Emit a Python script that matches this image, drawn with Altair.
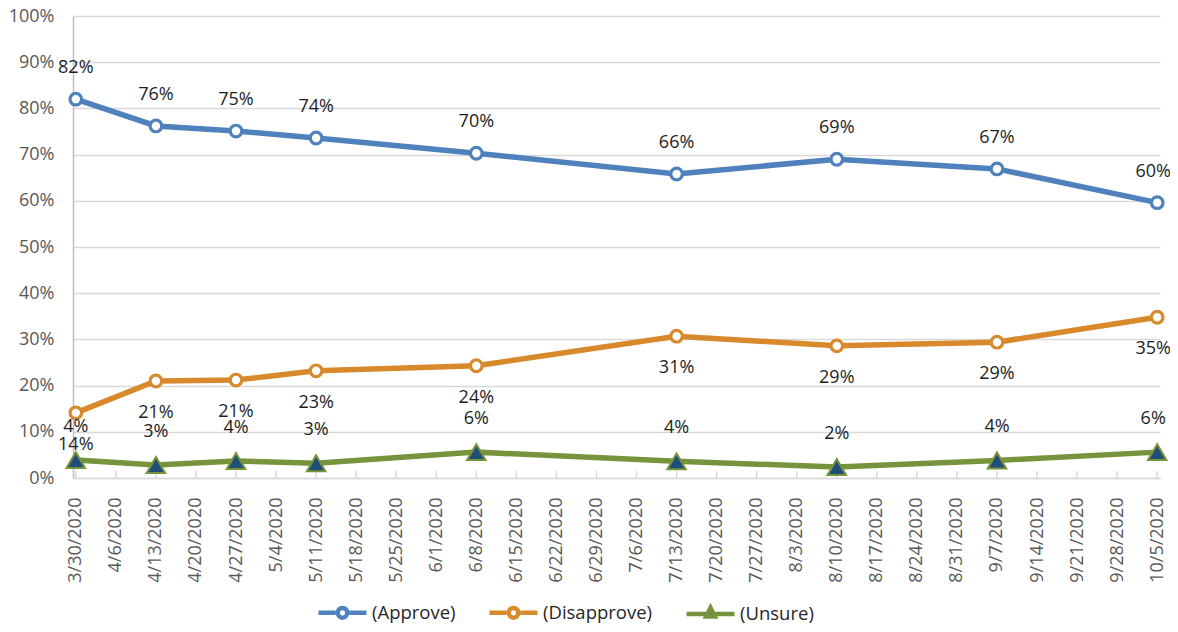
import altair as alt
import pandas as pd

week_labels = ["3/30/2020", "4/6/2020", "4/13/2020", "4/20/2020", "4/27/2020", "5/4/2020",
               "5/11/2020", "5/18/2020", "5/25/2020", "6/1/2020", "6/8/2020", "6/15/2020",
               "6/22/2020", "6/29/2020", "7/6/2020", "7/13/2020", "7/20/2020", "7/27/2020",
               "8/3/2020", "8/10/2020", "8/17/2020", "8/24/2020", "8/31/2020", "9/7/2020",
               "9/14/2020", "9/21/2020", "9/28/2020", "10/5/2020"]
survey_dates = ["3/30/2020", "4/13/2020", "4/27/2020", "5/11/2020", "6/8/2020",
                "7/13/2020", "8/10/2020", "9/7/2020", "10/5/2020"]
series_names = ["(Approve)", "(Disapprove)", "(Unsure)"]
approve = [0.820, 0.762, 0.751, 0.736, 0.703, 0.658, 0.690, 0.669, 0.596]
disapprove = [0.141, 0.210, 0.212, 0.232, 0.243, 0.307, 0.286, 0.294, 0.348]
unsure = [0.039, 0.028, 0.037, 0.032, 0.056, 0.036, 0.024, 0.038, 0.056]
y_ticks = [0, 0.1, 0.2, 0.3, 0.4, 0.5, 0.6, 0.7, 0.8, 0.9, 1.0]

line_colors = ["#4f81bd", "#d8892b", "#77933c"]
marker_fills = ["#ffffff", "#ffffff", "#1f4e79"]
marker_shapes = ["circle", "circle", "triangle-up"]
marker_sizes = [135, 135, 340]
marker_strokes = [3.2, 3.2, 2]
label_dy = [-31, 32, -33]
legend_paths = [
    "M-1,0H-0.29M0.29,0H1M0.2,0A0.2,0.2,0,1,1,-0.2,0A0.2,0.2,0,1,1,0.2,0",
    "M-1,0H-0.29M0.29,0H1M0.2,0A0.2,0.2,0,1,1,-0.2,0A0.2,0.2,0,1,1,0.2,0",
    "M-1,0H-0.2M0.2,0H1M0,-0.26L0.18,0.1L-0.18,0.1Z",
]

FONT = "Open Sans"

rows = []
for name, vals in zip(series_names, [approve, disapprove, unsure]):
    for d, v in zip(survey_dates, vals):
        rows.append({"date": d, "series": name, "value": v, "idx": week_labels.index(d)})
df = pd.DataFrame(rows)
ticks_df = pd.DataFrame({"date": week_labels})
last_date = survey_dates[-1]

x_scale = alt.Scale(domain=week_labels, type="point", padding=0.07)
y_scale = alt.Scale(domain=[0, 1])

x_axis = alt.Axis(title=None, labelAngle=270, ticks=False, grid=False,
                  domainColor="#d9d9d9", domainWidth=1.5, labelColor="#595959",
                  labelFont=FONT, labelFontSize=18, labelPadding=19, labelOverlap=False)
y_axis = alt.Axis(title=None, format=".0%", values=y_ticks, grid=True, gridColor="#d9d9d9",
                  gridWidth=1.5, ticks=False, domain=True, domainColor="#bfbfbf",
                  domainWidth=1.5, labelColor="#595959", labelFont=FONT, labelFontSize=18,
                  labelPadding=19)

X = alt.X("date:N", scale=x_scale, sort=week_labels, axis=x_axis)
Y = alt.Y("value:Q", scale=y_scale, axis=y_axis)

layers = []
layers.append(
    alt.Chart(ticks_df).mark_rule(color="#d9d9d9", strokeWidth=1.5).encode(
        x=X, y=alt.datum(0), y2=alt.datum(0.015)
    )
)

for i, name in enumerate(series_names):
    base = alt.Chart(df).transform_filter(alt.datum.series == name)
    layers.append(base.mark_line(strokeWidth=5.5, color=line_colors[i]).encode(
        x=X, y=Y, order=alt.Order("idx:Q")))

for i, name in enumerate(series_names):
    base = alt.Chart(df).transform_filter(alt.datum.series == name)
    layers.append(base.mark_point(filled=True, opacity=1, shape=marker_shapes[i],
                                  size=marker_sizes[i], fill=marker_fills[i],
                                  stroke=line_colors[i],
                                  strokeWidth=marker_strokes[i]).encode(x=X, y=Y))

for i, name in enumerate(series_names):
    base = alt.Chart(df).transform_filter(alt.datum.series == name)
    layers.append(base.transform_filter(alt.datum.date != last_date).mark_text(
        dy=label_dy[i], font=FONT, fontSize=18, color="#1e1e1e").encode(
        x=X, y=Y, text=alt.Text("value:Q", format=".0%")))
    # last column: nudged slightly left so it stays inside the page
    layers.append(base.transform_filter(alt.datum.date == last_date).mark_text(
        dy=label_dy[i], dx=-4, font=FONT, fontSize=18, color="#1e1e1e").encode(
        x=X, y=Y, text=alt.Text("value:Q", format=".0%")))

legend = alt.Legend(title=None, orient="none", legendX=243, legendY=570,
                    direction="horizontal", symbolSize=2304, symbolStrokeWidth=4.5,
                    symbolOpacity=1, labelFont=FONT, labelFontSize=18.5,
                    labelColor="#262626", columnPadding=24, labelOffset=3)
layers.append(
    alt.Chart(df).transform_filter("false").mark_point(filled=True, opacity=1, strokeWidth=4.5).encode(
        x=X, y=Y,
        stroke=alt.Stroke("series:N", scale=alt.Scale(domain=series_names, range=line_colors), legend=legend),
        fill=alt.Fill("series:N", scale=alt.Scale(domain=series_names, range=marker_fills), legend=legend),
        shape=alt.Shape("series:N", scale=alt.Scale(domain=series_names, range=legend_paths), legend=legend),
    )
)

chart = alt.layer(*layers).properties(
    width=1087, height=462,
    autosize=alt.AutoSizeParams(type="none"),
    padding={"left": 65, "top": 8, "right": 10, "bottom": 146},
    background="white",
).configure_view(stroke=None)

chart.save("out.html", embed_options={"renderer": "svg", "actions": False})
